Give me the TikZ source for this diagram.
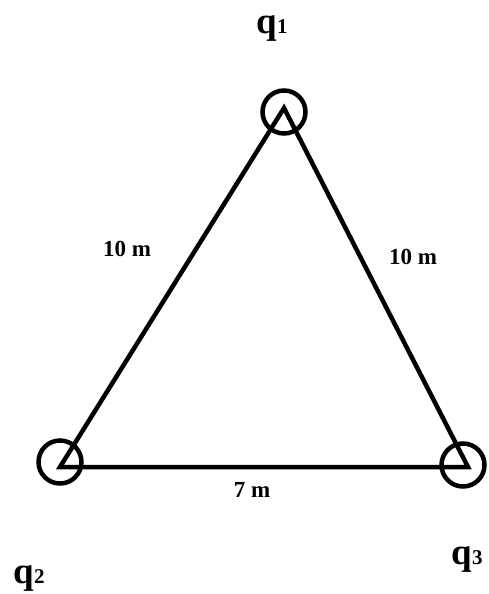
\documentclass[tikz,border=0pt]{standalone}
\usepackage{fontspec}
\setmainfont{Liberation Serif}
\usepackage{tikz}
\usetikzlibrary{positioning}

\begin{document}
\begin{tikzpicture}[x=1pt, y=-1pt,
    every node/.style={font=\bfseries},
    charge/.style={circle, draw, line width=4.5pt, minimum size=43pt, inner sep=0pt},
    side/.style={line width=4.5pt, line join=miter},
    dist/.style={anchor=base, font=\fontsize{23}{26}\selectfont\bfseries},
    qlabel/.style={anchor=base, font=\fontsize{37}{40}\selectfont\bfseries},
]
\useasboundingbox (0,0) rectangle (488,594);

% corners of the triangle
\coordinate (top) at (284,108);
\coordinate (left) at (60,467);
\coordinate (right) at (468,467);

% charges
\node[charge] (c1) at (284,112) {};
\node[charge] (c2) at (60,462) {};
\node[charge] (c3) at (463,465) {};

\draw[side] (top) -- (right) -- (left) -- cycle;

\node[qlabel] (q1) at (272,34) {q{\fontsize{21}{24}\selectfont 1}};
\node[qlabel] (q2) at (29,583) {q{\fontsize{21}{24}\selectfont 2}};
\node[qlabel] (q3) at (467,564) {q{\fontsize{21}{24}\selectfont 3}};

\node[dist] (dl) at (127,256) {10 m};
\node[dist] (dr) at (413,264) {10 m};
\node[dist] (db) at (252,497) {7 m};
\end{tikzpicture}
\end{document}
